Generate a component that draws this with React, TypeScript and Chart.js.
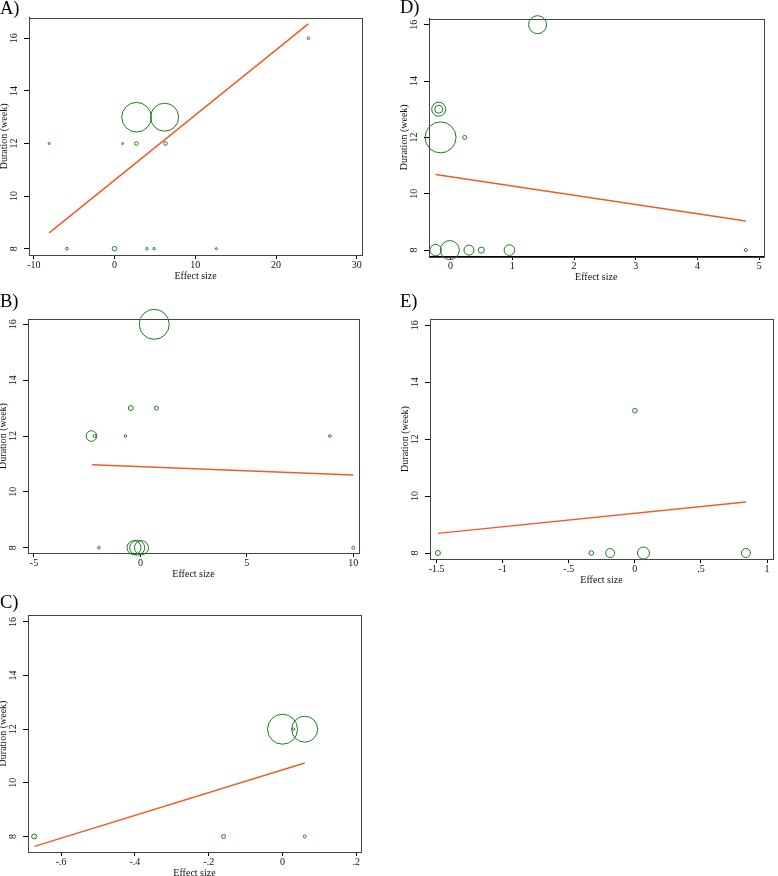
import React, { useEffect, useRef } from 'react';
import { Chart, registerables } from 'chart.js';
Chart.register(...registerables);

const FONT = "'Liberation Serif', 'Times New Roman', Times, serif";
Chart.defaults.font.family = FONT;
const GREEN = '#1f7a1f';
const ORANGE = '#f25a26';

// shared y axis ticks
const yTicks = [8, 10, 12, 14, 16];
const yTickLabels = ['8', '10', '12', '14', '16'];

// Panel A
const aX = [-8.1, 1.0, 2.7, 6.3, 2.72, 6.2, 24, -5.9, 0, 4.0, 4.9, 12.6];
const aY = [12, 12, 12, 12, 13, 13, 16, 8, 8, 8, 8, 8];
const aW = [1, 1, 1.8, 1.8, 14.8, 14, 1.3, 1.3, 2.3, 1.2, 1.2, 1];
const aFitX = [-8.1, 24];
const aFitY = [8.6, 16.55];
const aXTicks = [-10, 0, 10, 20, 30];
const aXTickLabels = ['-10', '0', '10', '20', '30'];
const aXRange = [-10.6, 30.67];
const aYRange = [7.76, 16.78];

// Panel B
const bX = [0.65, -0.45, 0.75, -2.3, -2.15, -0.7, 8.9, -1.95, 10, -0.3, -0.15, 0.05];
const bY = [16, 13, 13, 12, 12, 12, 12, 8, 8, 8, 8, 8];
const bW = [15, 2.5, 2, 5.3, 1.5, 1.3, 1.3, 1.3, 1.5, 7, 7.5, 7];
const bFitX = [-2.27, 10];
const bFitY = [10.97, 10.6];
const bXTicks = [-5, 0, 5, 10];
const bXTickLabels = ['-5', '0', '5', '10'];
const bXRange = [-5.28, 10.27];
const bYRange = [7.81, 16.19];

// Panel C
const cX = [-0.673, -0.16, 0.06, 0, 0.06, 0.03];
const cY = [8, 8, 8, 12, 12, 12];
const cW = [2.5, 2, 1.5, 15, 13, 1.2];
const cFitX = [-0.672, 0.06];
const cFitY = [7.63, 10.74];
const cXTicks = [-0.6, -0.4, -0.2, 0, 0.2];
const cXTickLabels = ['-.6', '-.4', '-.2', '0', '.2'];
const cXRange = [-0.6897, 0.2126];
const cYRange = [7.42, 16.26];

// Panel D
const dX = [1.41, -0.19, -0.19, -0.16, 0.23, 4.78, -0.24, -0.01, 0.3, 0.5, 0.955];
const dY = [16, 13, 13, 12, 12, 8, 8, 8, 8, 8, 8];
const dW = [9, 7, 4, 15.5, 2, 1.5, 5.7, 9.5, 5, 3, 5.3];
const dFitX = [-0.24, 4.78];
const dFitY = [10.68, 9.03];
const dXTicks = [0, 1, 2, 3, 4, 5];
const dXTickLabels = ['0', '1', '2', '3', '4', '5'];
const dXRange = [-0.347, 5.067];
const dYRange = [7.79, 16.22];

// Panel E
const eX = [-1.49, -0.33, -0.187, 0.065, 0.84, 0];
const eY = [8, 8, 8, 8, 8, 13];
const eW = [2.5, 2.3, 4.5, 6, 4.5, 2.3];
const eFitX = [-1.49, 0.84];
const eFitY = [8.69, 9.79];
const eXTicks = [-1.5, -1, -0.5, 0, 0.5, 1];
const eXTickLabels = ['-1.5', '-1', '-.5', '0', '.5', '1'];
const eXRange = [-1.55, 1.045];
const eYRange = [7.79, 16.22];

const PAD_T = 14;
const PAD_R = 3;
const YW = 29;
const XH = 27;

const framePlugin = {
  id: 'frameBox',
  beforeDatasetsDraw(chart: any) {
    const { ctx, chartArea: a } = chart;
    ctx.save();
    ctx.strokeStyle = '#444';
    ctx.lineWidth = 1;
    ctx.strokeRect(Math.round(a.left) + 0.5, Math.round(a.top) + 0.5, Math.round(a.right - a.left), Math.round(a.bottom - a.top));
    ctx.restore();
  },
};

type PanelProps = {
  xs: number[]; ys: number[]; ws: number[];
  fitX: number[]; fitY: number[];
  xTicks: number[]; xTickLabels: string[];
  xRange: number[]; yRange: number[];
  frame: { l: number; t: number; r: number; b: number };
};

function Panel(p: PanelProps) {
  const ref = useRef<HTMLCanvasElement | null>(null);
  const width = p.frame.r - p.frame.l + YW + PAD_R;
  const height = PAD_T + (p.frame.b - p.frame.t) + XH;
  useEffect(() => {
    if (!ref.current) return;
    const chart = new Chart(ref.current, {
      type: 'bubble',
      data: {
        datasets: [
          {
            type: 'line',
            data: p.fitX.map((x, i) => ({ x, y: p.fitY[i] })),
            borderColor: ORANGE,
            borderWidth: 1.5,
            pointRadius: 0,
            fill: false,
          } as any,
          {
            type: 'bubble',
            data: p.xs.map((x, i) => ({ x, y: p.ys[i], r: p.ws[i] })),
            borderColor: GREEN,
            backgroundColor: 'rgba(0,0,0,0)',
            borderWidth: 1,
            clip: false,
          } as any,
        ],
      },
      options: {
        responsive: false,
        maintainAspectRatio: false,
        animation: false,
        layout: { padding: { top: PAD_T, right: PAD_R, left: 0, bottom: 0 } },
        plugins: { legend: { display: false }, tooltip: { enabled: false } },
        events: [],
        scales: {
          x: {
            type: 'linear',
            position: 'bottom',
            min: p.xRange[0],
            max: p.xRange[1],
            afterBuildTicks: (s: any) => { s.ticks = p.xTicks.map((v) => ({ value: v })); },
            afterFit: (s: any) => { s.height = XH; },
            ticks: {
              autoSkip: false, minRotation: 0, maxRotation: 0, padding: 0,
              color: '#111', font: { size: 10, family: FONT },
              callback: (_v: any, i: number) => p.xTickLabels[i],
            },
            grid: { display: true, drawOnChartArea: false, drawTicks: true, tickLength: 4, color: '#000', tickColor: '#000' },
            border: { display: true, color: '#000', width: 1 },
            title: { display: true, text: 'Effect size', color: '#111', font: { size: 10, family: FONT }, padding: 0 },
          },
          y: {
            type: 'linear',
            position: 'left',
            min: p.yRange[0],
            max: p.yRange[1],
            afterBuildTicks: (s: any) => { s.ticks = yTicks.map((v) => ({ value: v })); },
            afterFit: (s: any) => { s.width = YW; },
            ticks: {
              autoSkip: false, minRotation: 90, maxRotation: 90, crossAlign: 'center', padding: 5,
              color: '#111', font: { size: 10, family: FONT },
              callback: (_v: any, i: number) => yTickLabels[i],
            },
            grid: { display: true, drawOnChartArea: false, drawTicks: true, tickLength: 5, color: '#000', tickColor: '#000' },
            border: { display: true, color: '#000', width: 1 },
            title: { display: true, text: 'Duration (week)', color: '#111', font: { size: 10, family: FONT }, padding: { top: -1.5, bottom: 0 } },
          },
        },
      } as any,
      plugins: [framePlugin],
    });
    return () => chart.destroy();
  }, []);
  return (
    <canvas
      ref={ref}
      width={width}
      height={height}
      style={{ position: 'absolute', left: p.frame.l - YW, top: p.frame.t - PAD_T, width, height }}
    />
  );
}

function Letter({ text, left, baseline }: { text: string; left: number; baseline: number }) {
  return (
    <div
      style={{
        position: 'absolute', left, top: baseline - 15, fontFamily: FONT,
        fontSize: 18.5, lineHeight: '18px', color: '#000', whiteSpace: 'nowrap',
      }}
    >
      {text}
    </div>
  );
}

export default function App() {
  return (
    <div style={{ position: 'absolute', left: 0, top: 0, width: 778, height: 876, overflow: 'hidden', background: '#fff' }}>
      <Panel xs={aX} ys={aY} ws={aW} fitX={aFitX} fitY={aFitY} xTicks={aXTicks} xTickLabels={aXTickLabels}
        xRange={aXRange} yRange={aYRange} frame={{ l: 29, t: 16, r: 375, b: 255 }} />
      <Panel xs={bX} ys={bY} ws={bW} fitX={bFitX} fitY={bFitY} xTicks={bXTicks} xTickLabels={bXTickLabels}
        xRange={bXRange} yRange={bYRange} frame={{ l: 28, t: 317, r: 372, b: 553 }} />
      <Panel xs={cX} ys={cY} ws={cW} fitX={cFitX} fitY={cFitY} xTicks={cXTicks} xTickLabels={cXTickLabels}
        xRange={cXRange} yRange={cYRange} frame={{ l: 28, t: 613, r: 374, b: 852 }} />
      <Panel xs={dX} ys={dY} ws={dW} fitX={dFitX} fitY={dFitY} xTicks={dXTicks} xTickLabels={dXTickLabels}
        xRange={dXRange} yRange={dYRange} frame={{ l: 429, t: 16, r: 777, b: 256 }} />
      <Panel xs={eX} ys={eY} ws={eW} fitX={eFitX} fitY={eFitY} xTicks={eXTicks} xTickLabels={eXTickLabels}
        xRange={eXRange} yRange={eYRange} frame={{ l: 430, t: 319, r: 777, b: 559 }} />
      <Letter text="A)" left={0} baseline={14} />
      <Letter text="B)" left={0} baseline={306.5} />
      <Letter text="C)" left={0} baseline={608} />
      <Letter text="D)" left={400} baseline={13} />
      <Letter text="E)" left={400} baseline={307} />
    </div>
  );
}
